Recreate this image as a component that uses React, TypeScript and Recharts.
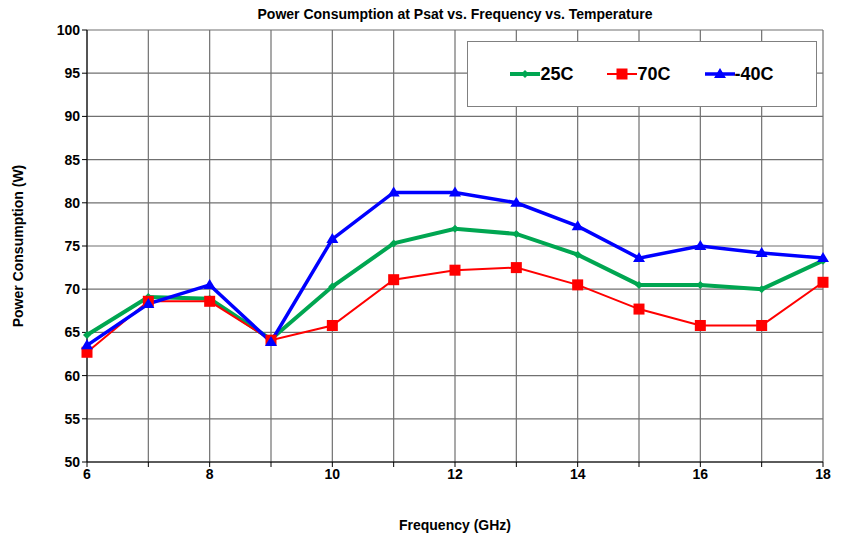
import { CartesianGrid, Line, LineChart, XAxis, YAxis } from "recharts";

const FREQ = [6, 7, 8, 9, 10, 11, 12, 13, 14, 15, 16, 17, 18];
const T25 = [64.7, 69.1, 68.9, 64.2, 70.3, 75.3, 77.0, 76.4, 74.0, 70.5, 70.5, 70.0, 73.3];
const T70 = [62.7, 68.6, 68.6, 64.1, 65.8, 71.1, 72.2, 72.5, 70.5, 67.7, 65.8, 65.8, 70.8];
const TM40 = [63.5, 68.3, 70.5, 63.9, 75.8, 81.2, 81.2, 80.0, 77.3, 73.6, 75.0, 74.2, 73.6];
const Y_TICKS = [50, 55, 60, 65, 70, 75, 80, 85, 90, 95, 100];

const data = FREQ.map((f, i) => ({ f, t25: T25[i], t70: T70[i], tm40: TM40[i] }));

const FONT = "'Liberation Sans', Arial, sans-serif";

const Diamond = (props: any) => {
  const { cx, cy, fill } = props;
  if (cx == null || cy == null) return null;
  return <path d={`M${cx},${cy - 4}L${cx + 4},${cy}L${cx},${cy + 4}L${cx - 4},${cy}Z`} fill={fill} />;
};
const Square = (props: any) => {
  const { cx, cy, fill } = props;
  if (cx == null || cy == null) return null;
  return <rect x={cx - 5.5} y={cy - 5.5} width={11} height={11} fill={fill} />;
};
const Triangle = (props: any) => {
  const { cx, cy, fill } = props;
  if (cx == null || cy == null) return null;
  return <path d={`M${cx},${cy - 6}L${cx + 6},${cy + 4}L${cx - 6},${cy + 4}Z`} fill={fill} />;
};

const SERIES = [
  { key: "t25", name: "25C", color: "#00a651", width: 4, Dot: Diamond },
  { key: "t70", name: "70C", color: "#ff0000", width: 2, Dot: Square },
  { key: "tm40", name: "-40C", color: "#0000ff", width: 3.5, Dot: Triangle },
];

const LegendBox = () => (
  <div
    style={{
      position: "absolute",
      left: 467,
      top: 41,
      width: 350,
      height: 66,
      background: "#fff",
      border: "1.5px solid #808080",
      display: "flex",
      alignItems: "center",
      justifyContent: "center",
      gap: 34,
      fontFamily: FONT,
      fontWeight: "bold",
      fontSize: 18,
      boxSizing: "border-box",
    }}
  >
    {SERIES.map((s) => (
      <div key={s.key} style={{ display: "flex", alignItems: "center" }}>
        <svg width={30} height={14}>
          <line x1={0} y1={7} x2={30} y2={7} stroke={s.color} strokeWidth={s.width} />
          <s.Dot cx={15} cy={7} fill={s.color} />
        </svg>
        <span>{s.name}</span>
      </div>
    ))}
  </div>
);

export default function App() {
  return (
    <div style={{ position: "absolute", left: 0, top: 0, width: 842, height: 536, background: "#fff" }}>
      <div
        style={{
          position: "absolute",
          top: 6,
          left: 87,
          width: 736,
          textAlign: "center",
          fontFamily: FONT,
          fontWeight: "bold",
          fontSize: 14,
        }}
      >
        Power Consumption at Psat vs. Frequency vs. Temperature
      </div>
      <LineChart width={842} height={536} data={data} margin={{ top: 30, right: 19, left: 0, bottom: 0 }}>
        <CartesianGrid stroke="#707070" strokeWidth={1.2} verticalValues={FREQ} horizontalValues={Y_TICKS} />
        <XAxis
          dataKey="f"
          type="number"
          domain={[6, 18]}
          ticks={FREQ}
          interval={0}
          tickFormatter={(v: number) => (v % 2 === 0 ? String(v) : "")}
          height={74}
          stroke="#000"
          tickLine={{ stroke: "#000" }}
          tickSize={5}
          tick={{ fill: "#000", fontFamily: FONT, fontWeight: "bold", fontSize: 14 }}
          label={{
            value: "Frequency (GHz)",
            position: "insideBottom",
            offset: 6,
            fill: "#000",
            fontFamily: FONT,
            fontWeight: "bold",
            fontSize: 14,
          }}
        />
        <YAxis
          type="number"
          domain={[50, 100]}
          ticks={Y_TICKS}
          interval={0}
          width={87}
          stroke="#000"
          tickSize={5}
          tick={{ fill: "#000", fontFamily: FONT, fontWeight: "bold", fontSize: 14 }}
          label={{
            value: "Power Consumption (W)",
            angle: -90,
            position: "insideLeft",
            offset: 18,
            style: { textAnchor: "middle" },
            fill: "#000",
            fontFamily: FONT,
            fontWeight: "bold",
            fontSize: 14,
          }}
        />
        {SERIES.map((s) => (
          <Line
            key={s.key}
            dataKey={s.key}
            name={s.name}
            stroke={s.color}
            strokeWidth={s.width}
            dot={<s.Dot fill={s.color} />}
            activeDot={false}
            isAnimationActive={false}
          />
        ))}
      </LineChart>
      <LegendBox />
    </div>
  );
}
